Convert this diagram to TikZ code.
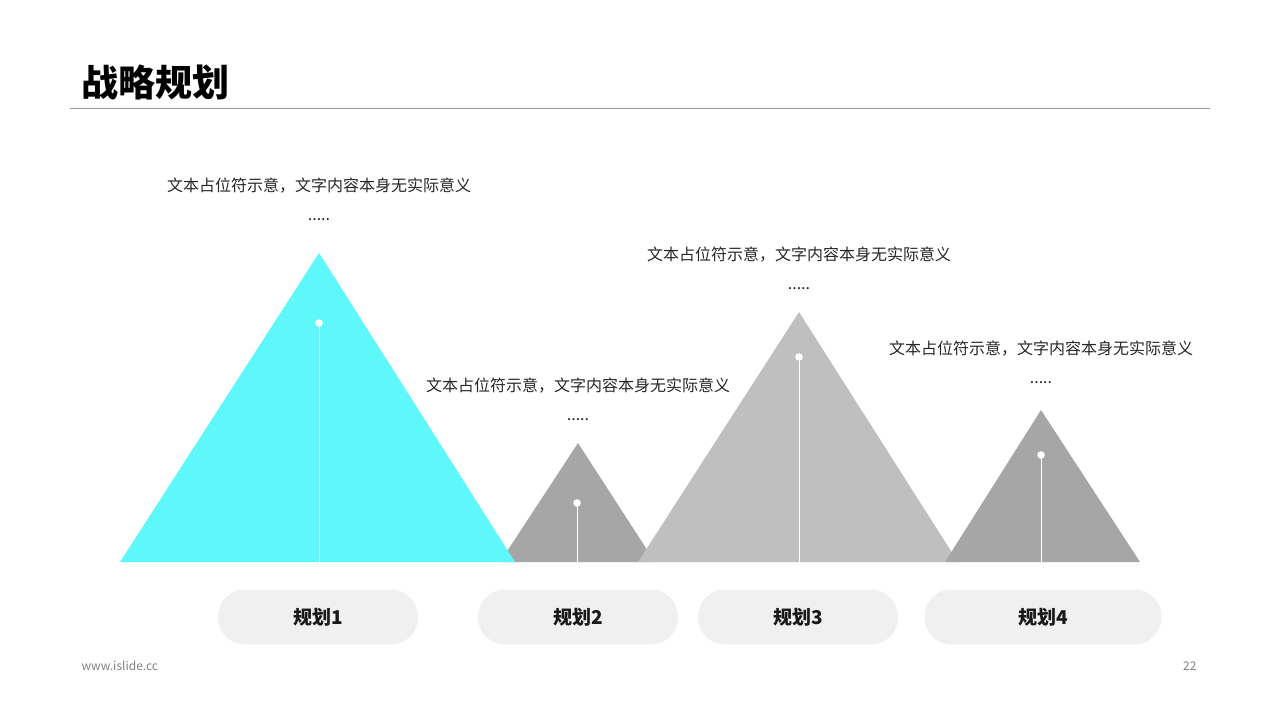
\documentclass[tikz,border=0pt]{standalone}
\usepackage{fontspec}
\setmainfont{Noto Sans CJK SC}
\usetikzlibrary{positioning}
\definecolor{peakcyan}{HTML}{5EF8FB}
\definecolor{peakgray}{HTML}{A6A6A6}
\definecolor{peaklight}{HTML}{BFBFBF}
\definecolor{pillgray}{HTML}{F0F0F0}
\tikzset{
  note/.style={font=\fontsize{16}{18}\selectfont, text=black!85},
  pill/.style={fill=pillgray, rounded corners=27pt, minimum width=200pt, minimum height=55pt,
    font=\fontsize{19}{22}\selectfont\bfseries, text=black!90},
  stem/.style={draw=white, line width=1pt},
}
\begin{document}
\begin{tikzpicture}[x=1pt,y=-1pt]
  \useasboundingbox (0,0) rectangle (1280,720);
  % title
  \node[anchor=west, font=\fontsize{37}{40}\selectfont\bfseries] (title) at (78,82) {战略规划};
  \draw[black!40, line width=0.8pt] (70,108) -- (1210,108);

  % peaks
  \fill[peakgray] (500,562) -- (578,443) -- (655,562) -- cycle;
  \fill[peakcyan] (120,562) -- (319,253) -- (515,562) -- cycle;
  \fill[peaklight] (638,562) -- (799,312) -- (958,562) -- cycle;
  \fill[peakgray] (945,562) -- (1041,410) -- (1140,562) -- cycle;

  % stems with dots
  \foreach \x/\y in {319/323, 577/503, 799/357, 1041/455} {
    \draw[stem] (\x,\y) -- (\x,562);
    \fill[white] (\x,\y) circle (3.8pt);
  }

  % notes
  \foreach \n/\x/\y in {a/319/186, b/578/386, c/799/255, d/1041/349} {
    \node[note] (note\n) at (\x,\y) {文本占位符示意，文字内容本身无实际意义};
    \node[note, below=18pt of note\n] (dots\n) {.....};
  }

  % labels
  \node[pill] (plan1) at (318,617) {规划1};
  \node[pill] (plan2) at (578,617) {规划2};
  \node[pill] (plan3) at (798,617) {规划3};
  \node[pill, minimum width=237pt] (plan4) at (1043,617) {规划4};

  % footer
  \node[anchor=west, font=\fontsize{12}{14}\selectfont, text=black!50] (site) at (78,666) {www.islide.cc};
  \node[anchor=east, font=\fontsize{12}{14}\selectfont, text=black!50] (page) at (1200,666) {22};
\end{tikzpicture}
\end{document}
